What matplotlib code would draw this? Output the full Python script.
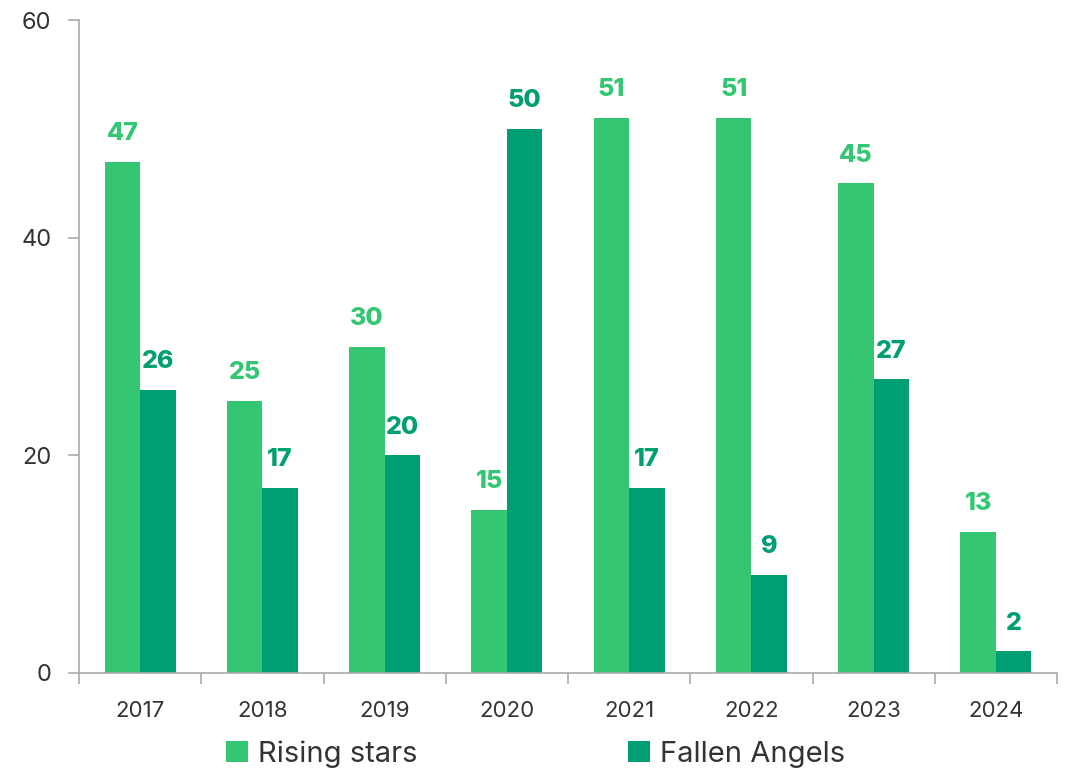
import matplotlib
matplotlib.use("Agg")
import matplotlib.pyplot as plt
import numpy as np

plt.rcParams['font.family'] = ['Inter', 'DejaVu Sans']

years = ["2017", "2018", "2019", "2020", "2021", "2022", "2023", "2024"]
rising_stars = [47, 25, 30, 15, 51, 51, 45, 13]
fallen_angels = [26, 17, 20, 50, 17, 9, 27, 2]

rising_color = "#34C672"
fallen_color = "#009E73"
text_color = "#333333"
spine_color = "#AAAAAA"

fig = plt.figure(figsize=(10.71, 7.74), dpi=100)
ax = fig.add_axes([0.0738, 0.1305, 0.9132, 0.8435])

x = np.arange(len(years))
w = 0.29
b1 = ax.bar(x - w / 2, rising_stars, w, color=rising_color, label="Rising stars")
b2 = ax.bar(x + w / 2, fallen_angels, w, color=fallen_color, label="Fallen Angels")

for bars, vals, col in ((b1, rising_stars, rising_color), (b2, fallen_angels, fallen_color)):
    for rect, v in zip(bars, vals):
        ax.annotate(str(v), (rect.get_x() + rect.get_width() / 2, v),
                    xytext=(0, 12), textcoords="offset points",
                    ha="center", va="bottom", fontsize=18, fontweight="heavy", color=col)

ax.set_xlim(-0.5, len(years) - 0.5)
ax.set_ylim(0, 60)
ax.set_yticks([0, 20, 40, 60])

# category labels centred, tick marks at group boundaries
ax.set_xticks(x)
ax.set_xticklabels(years)
ax.tick_params(axis="x", length=0, pad=20, labelsize=16, labelcolor=text_color)
ax.set_xticks(np.arange(len(years) + 1) - 0.5, minor=True)
ax.tick_params(axis="x", which="minor", length=8, width=1.2, color=spine_color, direction="out")
ax.tick_params(axis="y", length=8, width=1.2, color=spine_color, labelsize=17,
               labelcolor=text_color, pad=12)

for s in ("top", "right"):
    ax.spines[s].set_visible(False)
for s in ("left", "bottom"):
    ax.spines[s].set_color(spine_color)
    ax.spines[s].set_linewidth(1.2)

fig.legend(handles=[b1, b2], loc="lower center", bbox_to_anchor=(0.5, -0.026), ncol=2,
           frameon=False, fontsize=21, handlelength=0.75, handleheight=0.75,
           handletextpad=0.35, columnspacing=7.2, labelcolor=text_color)

fig.savefig("out.png", dpi=100)
